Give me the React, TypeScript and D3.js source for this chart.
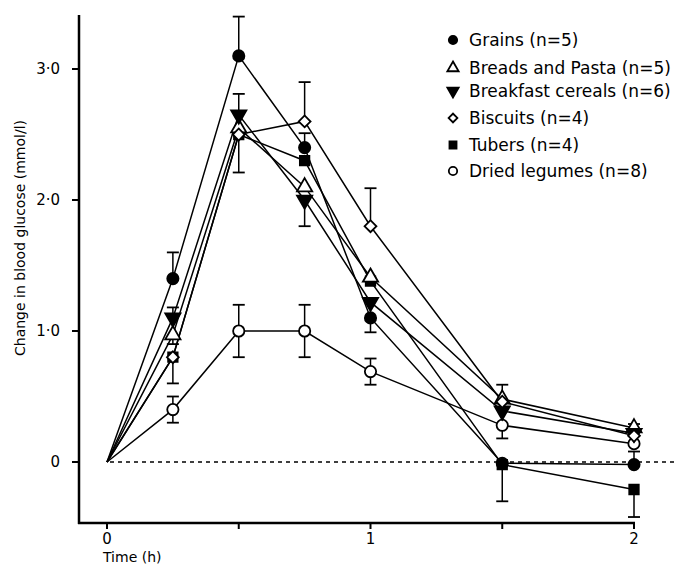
import React, { useEffect, useRef } from 'react';
import * as d3 from 'd3';

// hours after the meal
const times = [0, 0.25, 0.5, 0.75, 1, 1.5, 2];

const grains = [0, 1.4, 3.1, 2.4, 1.1, -0.01, -0.02];
const breads = [0, 0.97, 2.55, 2.1, 1.41, 0.48, 0.26];
const breakfast = [0, 1.1, 2.65, 2.0, 1.22, 0.39, 0.22];
const biscuits = [0, 0.8, 2.5, 2.6, 1.8, 0.46, 0.2];
const tubers = [0, 0.8, 2.5, 2.3, 1.38, -0.02, -0.21];
const legumes = [0, 0.4, 1.0, 1.0, 0.69, 0.28, 0.14];

// error bar ends (null = not drawn)
const grainsHi = [null, 1.6, 3.4, 2.51, null, null, 0.08];
const grainsLo = [null, null, null, null, 0.99, null, null];
const breadsHi = [null, null, null, null, null, 0.59, 0.29];
const breadsLo = [null, 0.9, null, null, null, null, null];
const breakfastHi = [null, 1.18, 2.81, null, null, null, null];
const breakfastLo = [null, null, null, 1.8, null, null, null];
const biscuitsHi = [null, null, null, 2.9, 2.09, null, null];
const biscuitsLo = [null, null, 2.21, null, null, null, null];
const tubersHi = [null, null, null, null, null, null, null];
const tubersLo = [null, 0.6, null, null, null, -0.3, -0.42];
const legumesHi = [null, 0.5, 1.2, 1.2, 0.79, null, null];
const legumesLo = [null, 0.3, 0.8, 0.8, 0.59, 0.18, null];

const labels = [
  'Grains (n=5)',
  'Breads and Pasta (n=5)',
  'Breakfast cereals (n=6)',
  'Biscuits (n=4)',
  'Tubers (n=4)',
  'Dried legumes (n=8)',
];
const yTicks = [0, 1, 2, 3];
const yTickLabels = ['0', '1·0', '2·0', '3·0'];
const xTicks = [0, 0.5, 1, 1.5, 2];
const xTickLabels = ['0', '', '1', '', '2'];

const App = () => {
  const ref = useRef(null);

  useEffect(() => {
    const width = 678;
    const height = 566;
    const font = 'DejaVu Sans, sans-serif';

    const series = [
      { key: 'grains', values: grains, hi: grainsHi, lo: grainsLo, shape: 'circle', fill: 'black' },
      { key: 'breads', values: breads, hi: breadsHi, lo: breadsLo, shape: 'triangle', fill: 'white' },
      { key: 'breakfast', values: breakfast, hi: breakfastHi, lo: breakfastLo, shape: 'down', fill: 'black' },
      { key: 'biscuits', values: biscuits, hi: biscuitsHi, lo: biscuitsLo, shape: 'diamond', fill: 'white' },
      { key: 'tubers', values: tubers, hi: tubersHi, lo: tubersLo, shape: 'square', fill: 'black' },
      { key: 'legumes', values: legumes, hi: legumesHi, lo: legumesLo, shape: 'circle', fill: 'white' },
    ];

    const x = d3.scaleLinear().domain([0, 2]).range([107, 634]);
    const y = d3.scaleLinear().domain([0, 3]).range([462, 69]);

    d3.select(ref.current).selectAll('*').remove();
    const svg = d3.select(ref.current)
      .append('svg')
      .attr('width', width)
      .attr('height', height)
      .style('position', 'absolute')
      .style('left', 0)
      .style('top', 0)
      .style('background', 'white');

    const symbolPath = (shape, size) => {
      if (shape === 'circle') return d3.symbol(d3.symbolCircle, size)();
      if (shape === 'square') return d3.symbol(d3.symbolSquare, size * 0.9)();
      if (shape === 'diamond') return d3.symbol(d3.symbolSquare, size * 0.7)();
      return d3.symbol(d3.symbolTriangle, size)();
    };
    const symbolRotate = (shape) => (shape === 'down' ? 180 : shape === 'diamond' ? 45 : 0);

    // axes
    const axisBottomY = 523;
    svg.append('line')
      .attr('x1', 79).attr('x2', 79).attr('y1', 15).attr('y2', axisBottomY + 1)
      .attr('stroke', 'black').attr('stroke-width', 2.5);
    svg.append('line')
      .attr('x1', 78).attr('x2', x(2) + 1).attr('y1', axisBottomY).attr('y2', axisBottomY)
      .attr('stroke', 'black').attr('stroke-width', 2.5);

    svg.selectAll('.ytick')
      .data(yTicks)
      .enter()
      .append('line')
      .attr('x1', 72).attr('x2', 79)
      .attr('y1', d => y(d)).attr('y2', d => y(d))
      .attr('stroke', 'black').attr('stroke-width', 2);
    svg.selectAll('.ylab')
      .data(yTicks)
      .enter()
      .append('text')
      .text((d, i) => yTickLabels[i])
      .attr('x', 60)
      .attr('y', d => y(d) + 5)
      .attr('text-anchor', 'end')
      .style('font-family', font)
      .style('font-size', '15px');

    svg.selectAll('.xtick')
      .data(xTicks)
      .enter()
      .append('line')
      .attr('x1', d => x(d)).attr('x2', d => x(d))
      .attr('y1', axisBottomY).attr('y2', axisBottomY + 6)
      .attr('stroke', 'black').attr('stroke-width', 2);
    svg.selectAll('.xlab')
      .data(xTicks)
      .enter()
      .append('text')
      .text((d, i) => xTickLabels[i])
      .attr('x', d => x(d))
      .attr('y', 544)
      .attr('text-anchor', 'middle')
      .style('font-family', font)
      .style('font-size', '15px');

    svg.append('text')
      .text('Time (h)')
      .attr('x', 103)
      .attr('y', 562)
      .style('font-family', font)
      .style('font-size', '14px');

    svg.append('text')
      .text('Change in blood glucose (mmol/l)')
      .attr('transform', 'translate(25, 238) rotate(-90)')
      .attr('text-anchor', 'middle')
      .style('font-family', font)
      .style('font-size', '14px');

    // zero reference line
    svg.append('line')
      .attr('x1', x(0) + 3).attr('x2', width)
      .attr('y1', y(0)).attr('y2', y(0))
      .attr('stroke', 'black').attr('stroke-width', 1.3)
      .attr('stroke-dasharray', '4,4');

    const line = d3.line()
      .x((d, i) => x(times[i]))
      .y(d => y(d));

    svg.selectAll('.series')
      .data(series)
      .enter()
      .append('path')
      .attr('d', d => line(d.values))
      .attr('fill', 'none')
      .attr('stroke', 'black')
      .attr('stroke-width', 1.5);

    // error bars
    series.forEach(s => {
      times.forEach((t, i) => {
        [s.hi[i], s.lo[i]].forEach(end => {
          if (end === null) return;
          svg.append('line')
            .attr('x1', x(t)).attr('x2', x(t))
            .attr('y1', y(s.values[i])).attr('y2', y(end))
            .attr('stroke', 'black').attr('stroke-width', 1.5);
          svg.append('line')
            .attr('x1', x(t) - 6).attr('x2', x(t) + 6)
            .attr('y1', y(end)).attr('y2', y(end))
            .attr('stroke', 'black').attr('stroke-width', 1.8);
        });
      });
    });

    // markers, drawn back to front
    const order = [5, 4, 0, 1, 2, 3];
    order.forEach(k => {
      const s = series[k];
      svg.selectAll('.m' + s.key)
        .data(s.values.slice(1))
        .enter()
        .append('path')
        .attr('d', symbolPath(s.shape, 100))
        .attr('transform', (d, i) => `translate(${x(times[i + 1])},${y(d)}) rotate(${symbolRotate(s.shape)})`)
        .attr('fill', s.fill)
        .attr('stroke', 'black')
        .attr('stroke-width', 1.8);
    });

    // legend
    const legendY = [40, 68, 91, 118, 145, 171];
    const legend = svg.selectAll('.legend')
      .data(series)
      .enter()
      .append('g')
      .attr('transform', (d, i) => `translate(453, ${legendY[i]})`);
    legend.append('path')
      .attr('d', d => symbolPath(d.shape, 55))
      .attr('transform', d => `rotate(${symbolRotate(d.shape)})`)
      .attr('fill', d => d.fill)
      .attr('stroke', 'black')
      .attr('stroke-width', 1.8);
    legend.append('text')
      .text((d, i) => labels[i])
      .attr('x', 16)
      .attr('y', 6)
      .style('font-family', font)
      .style('font-size', '17px');
  }, []);

  return <div ref={ref} />;
};

export default App;
